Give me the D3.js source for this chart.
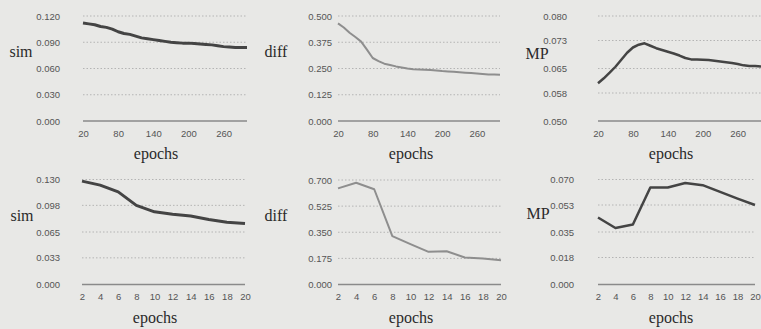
<!DOCTYPE html>
<html>
<head>
<meta charset="utf-8">
<script src="https://cdn.jsdelivr.net/npm/d3@7"></script>
<style>
  html, body { margin: 0; padding: 0; background: #e8e8e6; }
  svg { display: block; }
</style>
</head>
<body>
<script>
// categories
const epochsLong = [20, 30, 40, 50, 60, 70, 80, 90, 100, 110, 120, 130, 140, 150, 160,
  170, 180, 190, 200, 210, 220, 230, 240, 250, 260, 270, 280, 290, 300];
const epochsShort = [2, 4, 6, 8, 10, 12, 14, 16, 18, 20];

// x tick labels
const longTickLabels = [20, 80, 140, 200, 260];
const shortTickLabels = [2, 4, 6, 8, 10, 12, 14, 16, 18, 20];

// series values, top row
const simLong = [0.112, 0.111, 0.110, 0.108, 0.107, 0.105, 0.102, 0.100, 0.099, 0.097,
  0.095, 0.094, 0.093, 0.092, 0.091, 0.090, 0.0895, 0.089, 0.089, 0.0885,
  0.088, 0.0875, 0.087, 0.086, 0.085, 0.0845, 0.084, 0.084, 0.084];
const diffLong = [0.465, 0.445, 0.420, 0.400, 0.378, 0.340, 0.300, 0.285, 0.273, 0.267,
  0.260, 0.255, 0.250, 0.246, 0.245, 0.244, 0.243, 0.241, 0.238, 0.236,
  0.234, 0.232, 0.230, 0.228, 0.226, 0.224, 0.222, 0.221, 0.220];
const mpLong = [0.0608, 0.0622, 0.0638, 0.0655, 0.0675, 0.0695, 0.0710, 0.0718, 0.0722, 0.0715,
  0.0708, 0.0703, 0.0698, 0.0693, 0.0687, 0.0680, 0.0676, 0.0676, 0.0675, 0.0674,
  0.0672, 0.0670, 0.0668, 0.0666, 0.0663, 0.0659, 0.0657, 0.0657, 0.0656];

// series values, bottom row
const simShort = [0.128, 0.123, 0.1147, 0.098, 0.090, 0.087, 0.0847, 0.0805, 0.0771, 0.0755];
const diffShort = [0.644, 0.682, 0.638, 0.324, 0.270, 0.219, 0.223, 0.181, 0.174, 0.163];
const mpShort = [0.0447, 0.0377, 0.040, 0.0647, 0.0647, 0.0677, 0.0662, 0.0617, 0.0573, 0.053];

// y tick labels
const simLongTicks = ['0.000', '0.030', '0.060', '0.090', '0.120'];
const diffLongTicks = ['0.000', '0.125', '0.250', '0.375', '0.500'];
const mpLongTicks = ['0.050', '0.058', '0.065', '0.073', '0.080'];
const simShortTicks = ['0.000', '0.033', '0.065', '0.098', '0.130'];
const diffShortTicks = ['0.000', '0.175', '0.350', '0.525', '0.700'];
const mpShortTicks = ['0.000', '0.018', '0.035', '0.053', '0.070'];

const width = 761;
const height = 329;

const svg = d3.select('body')
  .append('svg')
  .attr('width', width)
  .attr('height', height);

svg.append('rect')
  .attr('width', width)
  .attr('height', height)
  .attr('fill', '#e8e8e6');

// layout of the six panels
const panels = [
  { x0: 83, x1: 247, top: 16, bottom: 121, labelRight: 60, titleX: 21, titleY: 57,
    name: 'sim', cats: epochsLong, xLabels: longTickLabels, values: simLong,
    ticks: simLongTicks, min: 0, max: 0.12, stroke: '#444', sw: 3 },
  { x0: 338, x1: 500, top: 16, bottom: 121, labelRight: 332, titleX: 276, titleY: 57,
    name: 'diff', cats: epochsLong, xLabels: longTickLabels, values: diffLong,
    ticks: diffLongTicks, min: 0, max: 0.5, stroke: '#8e8e8e', sw: 2 },
  { x0: 598, x1: 761, top: 16, bottom: 121, labelRight: 567, titleX: 537, titleY: 59,
    name: 'MP', cats: epochsLong, xLabels: longTickLabels, values: mpLong,
    ticks: mpLongTicks, min: 0.05, max: 0.08, stroke: '#444', sw: 2.5 },
  { x0: 82, x1: 245, top: 179.5, bottom: 284.5, labelRight: 60, titleX: 22, titleY: 221,
    name: 'sim', cats: epochsShort, xLabels: shortTickLabels, values: simShort,
    ticks: simShortTicks, min: 0, max: 0.13, stroke: '#444', sw: 3 },
  { x0: 338, x1: 501, top: 180, bottom: 284.5, labelRight: 332, titleX: 276, titleY: 221,
    name: 'diff', cats: epochsShort, xLabels: shortTickLabels, values: diffShort,
    ticks: diffShortTicks, min: 0, max: 0.7, stroke: '#8e8e8e', sw: 2 },
  { x0: 598, x1: 755, top: 179.5, bottom: 284.5, labelRight: 574, titleX: 538, titleY: 219,
    name: 'MP', cats: epochsShort, xLabels: shortTickLabels, values: mpShort,
    ticks: mpShortTicks, min: 0, max: 0.07, stroke: '#444', sw: 2.5 }
];

function drawPanel(p) {
  const g = svg.append('g');

  const x = d3.scalePoint()
    .domain(p.cats)
    .range([p.x0, p.x1])
    .padding(0);

  const y = d3.scaleLinear()
    .domain([p.min, p.max])
    .range([p.bottom, p.top]);

  const tickValues = p.ticks.map(t => +t);

  // gridlines
  g.selectAll('.grid')
    .data(tickValues.slice(1))
    .enter()
    .append('line')
    .attr('x1', p.x0)
    .attr('x2', p.x1)
    .attr('y1', d => y(d))
    .attr('y2', d => y(d))
    .attr('stroke', '#b4b4b4')
    .attr('stroke-width', 1)
    .attr('stroke-dasharray', '1.5,2');

  // base line
  g.append('line')
    .attr('x1', p.x0)
    .attr('x2', p.x1)
    .attr('y1', y(p.min))
    .attr('y2', y(p.min))
    .attr('stroke', '#8a8a8a')
    .attr('stroke-width', 1.5);

  // y tick labels
  const yAxis = d3.axisLeft(y)
    .tickValues(tickValues)
    .tickSize(0)
    .tickPadding(0)
    .tickFormat((d, i) => p.ticks[i]);

  g.append('g')
    .attr('transform', `translate(${p.labelRight},0)`)
    .call(yAxis)
    .call(a => a.select('.domain').remove())
    .selectAll('text')
    .attr('font-family', 'Liberation Sans, Arial, sans-serif')
    .attr('font-size', 9.5)
    .attr('fill', '#555');

  // x tick labels
  const xAxis = d3.axisBottom(x)
    .tickValues(p.xLabels)
    .tickSize(0)
    .tickPadding(9);

  g.append('g')
    .attr('transform', `translate(0,${p.bottom})`)
    .call(xAxis)
    .call(a => a.select('.domain').remove())
    .selectAll('text')
    .attr('font-family', 'Liberation Sans, Arial, sans-serif')
    .attr('font-size', 9.5)
    .attr('fill', '#555');

  // series line
  const line = d3.line()
    .x((d, i) => x(p.cats[i]))
    .y(d => y(d));

  g.append('path')
    .datum(p.values)
    .attr('d', line)
    .attr('fill', 'none')
    .attr('stroke', p.stroke)
    .attr('stroke-width', p.sw)
    .attr('stroke-linejoin', 'round');

  // y title
  g.append('text')
    .attr('x', p.titleX)
    .attr('y', p.titleY)
    .attr('text-anchor', 'middle')
    .attr('font-family', 'Liberation Serif, Times New Roman, serif')
    .attr('font-size', 16)
    .attr('fill', '#2a2a2a')
    .text(p.name);

  // x title
  g.append('text')
    .attr('x', p.x0 + 73)
    .attr('y', p.bottom + 38)
    .attr('text-anchor', 'middle')
    .attr('font-family', 'Liberation Serif, Times New Roman, serif')
    .attr('font-size', 16)
    .attr('fill', '#2a2a2a')
    .text('epochs');
}

panels.forEach(drawPanel);
</script>
</body>
</html>
